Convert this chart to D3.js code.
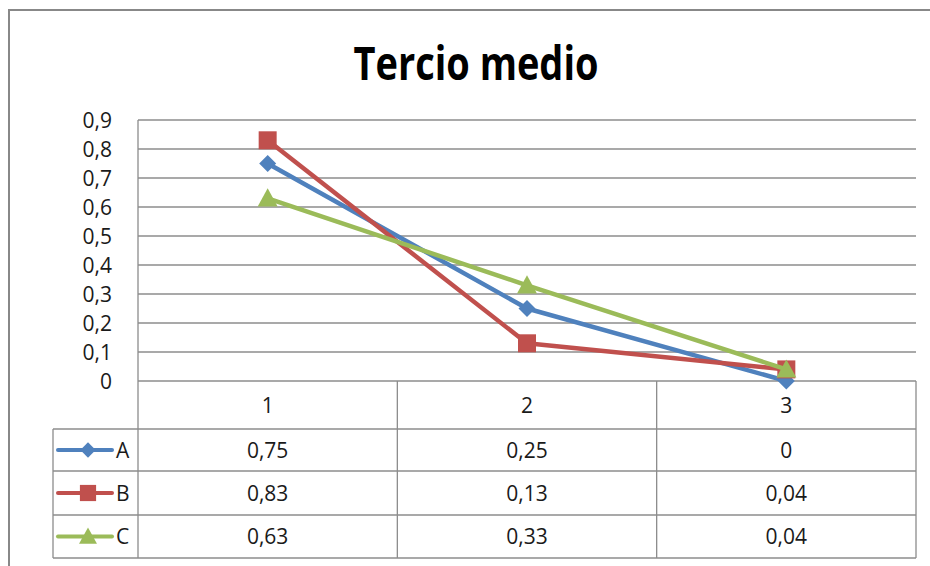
<!DOCTYPE html>
<html>
<head>
<meta charset="utf-8">
<script src="https://cdn.jsdelivr.net/npm/d3@7"></script>
<style>
  html, body { margin: 0; padding: 0; background: #fff; }
  svg { display: block; }
  .lbl { font-family: "Open Sans", "Noto Sans", sans-serif; font-size: 21px; fill: #1a1a1a; }
</style>
</head>
<body>
<svg id="chart" width="930" height="566"></svg>
<script>
// Chart data
const title = "Tercio medio";
const categories = ["1", "2", "3"];
const seriesNames = ["A", "B", "C"];
const valuesA = [0.75, 0.25, 0];
const valuesB = [0.83, 0.13, 0.04];
const valuesC = [0.63, 0.33, 0.04];
const yTicks = [0, 0.1, 0.2, 0.3, 0.4, 0.5, 0.6, 0.7, 0.8, 0.9];

const seriesValues = [valuesA, valuesB, valuesC];
const colors = ["#4F81BD", "#C0504D", "#9BBB59"];
const markers = ["diamond", "square", "triangle"];

const fmt = v => String(v).replace(".", ",");

const svg = d3.select("#chart");
const W = 930, H = 566;

// Layout of plot area and data table
const plot = { left: 138, right: 916, top: 120, bottom: 381 };
const table = { keyLeft: 53, headerBottom: 429, rowBottoms: [471, 515, 558] };
const gridColor = "#8c8c8c";

// Outer chart frame
svg.append("rect")
  .attr("x", 9).attr("y", 10)
  .attr("width", W + 20).attr("height", H + 20)
  .attr("fill", "#fff")
  .attr("stroke", "#888").attr("stroke-width", 2);

// Title
const t = svg.append("text")
  .attr("x", 476).attr("y", 80)
  .attr("text-anchor", "middle")
  .style("font-family", "'Liberation Sans Narrow', 'Open Sans', sans-serif")
  .style("font-weight", "bold")
  .style("font-size", "46px")
  .attr("fill", "#000")
  .text(title);
t.attr("textLength", 245).attr("lengthAdjust", "spacingAndGlyphs");

// Scales
const x = d3.scaleBand().domain(categories).range([plot.left, plot.right]);
const y = d3.scaleLinear().domain([0, 0.9]).range([plot.bottom, plot.top]);
const cx = c => x(c) + x.bandwidth() / 2;

// Horizontal gridlines
svg.append("g").selectAll("line")
  .data(yTicks.filter(v => v > 0))
  .join("line")
  .attr("x1", plot.left).attr("x2", plot.right)
  .attr("y1", d => y(d)).attr("y2", d => y(d))
  .attr("stroke", gridColor).attr("stroke-width", 1.3);

// Y axis labels
const yAxis = d3.axisLeft(y)
  .tickValues(yTicks)
  .tickFormat(fmt)
  .tickSize(0)
  .tickPadding(26);
const gy = svg.append("g").attr("transform", `translate(${plot.left},0)`).call(yAxis);
gy.select(".domain").remove();
gy.selectAll("text").attr("class", "lbl").attr("dy", "0.36em");

// Data table grid
const tg = svg.append("g").attr("stroke", gridColor).attr("stroke-width", 1.3).attr("fill", "none");
// axis line / table top
tg.append("line").attr("x1", plot.left).attr("x2", plot.right).attr("y1", plot.bottom).attr("y2", plot.bottom);
// plot left edge through table
tg.append("line").attr("x1", plot.left).attr("x2", plot.left).attr("y1", plot.top).attr("y2", table.rowBottoms[2]);
// column separators
const colEdges = categories.map(c => x(c) + x.bandwidth());
tg.selectAll("line.col").data(colEdges).join("line").attr("class", "col")
  .attr("x1", d => d).attr("x2", d => d)
  .attr("y1", plot.bottom).attr("y2", table.rowBottoms[2]);
// row lines
const rowLines = [table.headerBottom, ...table.rowBottoms];
tg.selectAll("line.row").data(rowLines).join("line").attr("class", "row")
  .attr("x1", table.keyLeft).attr("x2", plot.right)
  .attr("y1", d => d).attr("y2", d => d);
// key column left edge
tg.append("line").attr("x1", table.keyLeft).attr("x2", table.keyLeft)
  .attr("y1", table.headerBottom).attr("y2", table.rowBottoms[2]);

// Header row: category labels
svg.append("g").selectAll("text").data(categories).join("text")
  .attr("class", "lbl")
  .attr("x", d => cx(d))
  .attr("y", (plot.bottom + table.headerBottom) / 2)
  .attr("dy", "0.36em")
  .attr("text-anchor", "middle")
  .text(d => d);

// Row centres
const rowTops = [table.headerBottom, ...table.rowBottoms.slice(0, 2)];
const rowMid = i => (rowTops[i] + table.rowBottoms[i]) / 2;

// Marker shapes
function markerPath(kind, s) {
  if (kind === "diamond") {
    return `M0,${-s}L${s},0L0,${s}L${-s},0Z`;
  } else if (kind === "square") {
    return `M${-s},${-s}H${s}V${s}H${-s}Z`;
  } else {
    const h = s * 1.9, w = s * 1.05;
    return `M0,${-h * 0.55}L${w},${h * 0.45}L${-w},${h * 0.45}Z`;
  }
}
const markerSize = { diamond: 8.5, square: 9, triangle: 9.5 };

// Table values
seriesNames.forEach((name, i) => {
  const g = svg.append("g");
  g.selectAll("text").data(seriesValues[i]).join("text")
    .attr("class", "lbl")
    .attr("x", (d, j) => cx(categories[j]))
    .attr("y", rowMid(i))
    .attr("dy", "0.36em")
    .attr("text-anchor", "middle")
    .text(d => fmt(d));
  // legend key
  const ky = rowMid(i);
  g.append("line").attr("x1", 58).attr("x2", 112).attr("y1", ky).attr("y2", ky)
    .attr("stroke", colors[i]).attr("stroke-width", 4).attr("stroke-linecap", "round");
  g.append("path").attr("d", markerPath(markers[i], markerSize[markers[i]] * 0.9))
    .attr("transform", `translate(88,${ky})`).attr("fill", colors[i]);
  g.append("text").attr("class", "lbl").attr("x", 116).attr("y", ky).attr("dy", "0.36em").text(name);
});

// Series lines and markers
const line = d3.line().x((d, j) => cx(categories[j])).y(d => y(d));
seriesValues.forEach((vals, i) => {
  const g = svg.append("g");
  g.append("path").attr("d", line(vals))
    .attr("fill", "none").attr("stroke", colors[i])
    .attr("stroke-width", 4.5).attr("stroke-linejoin", "round").attr("stroke-linecap", "round");
  g.selectAll("path.m").data(vals).join("path").attr("class", "m")
    .attr("d", markerPath(markers[i], markerSize[markers[i]]))
    .attr("transform", (d, j) => `translate(${cx(categories[j])},${y(d)})`)
    .attr("fill", colors[i]);
});
</script>
</body>
</html>
